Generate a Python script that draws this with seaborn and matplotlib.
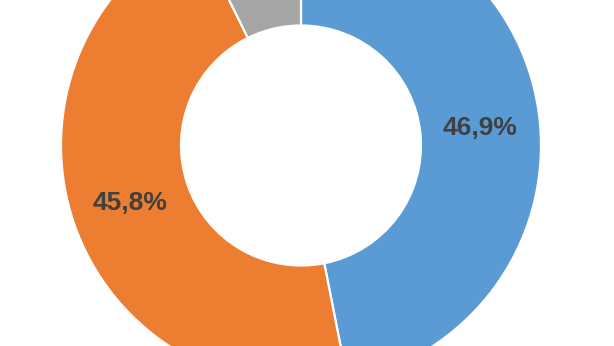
import matplotlib
matplotlib.use("Agg")
import matplotlib.pyplot as plt
import seaborn as sns

categories = ["A", "B", "C"]
values = [46.9, 45.8, 7.3]
shown_labels = ["46,9%", "45,8%", ""]
colors = ["#5B9BD5", "#ED7D31", "#A5A5A5"]

sns.set_theme(style="white")
plt.rcParams['font.family'] = ['Liberation Sans', 'DejaVu Sans']

fig = plt.figure(figsize=(6.14, 3.46), dpi=100)
ax = fig.add_axes([0, 0, 1, 1])

wedges, texts, autotexts = ax.pie(
    values, labels=None, colors=sns.color_palette(colors),
    startangle=90, counterclock=False, autopct="%1.1f%%", pctdistance=0.75,
    radius=1.0,
    wedgeprops=dict(width=0.5, edgecolor="white", linewidth=1.6),
    textprops=dict(fontsize=19, fontweight="bold", color="#404040"),
)
for t, lab in zip(autotexts, shown_labels):
    t.set_text(lab)
    if not lab:
        t.set_visible(False)

ax.set_aspect("auto")
ax.set_xlim(-301 / 240, (614 - 301) / 240)
ax.set_ylim(-(346 - 145.5) / 240, 145.5 / 240)
ax.axis("off")

fig.savefig("out.png", dpi=100, facecolor="white")
